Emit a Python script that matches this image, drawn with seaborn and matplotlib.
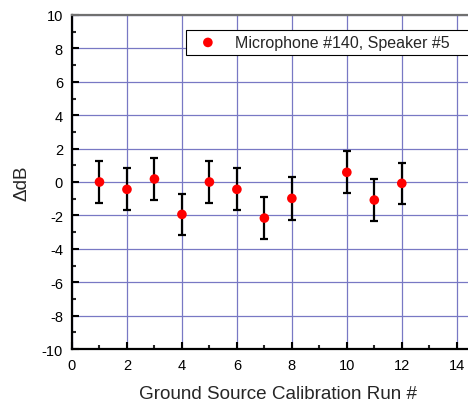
import matplotlib
matplotlib.use("Agg")
import matplotlib.pyplot as plt
import seaborn as sns
import pandas as pd

runs = [1, 2, 3, 4, 5, 6, 7, 8, 10, 11, 12]
delta_db = [0.0, -0.44, 0.18, -1.94, 0.0, -0.44, -2.16, -0.98, 0.58, -1.08, -0.08]
errors = [1.25, 1.25, 1.26, 1.25, 1.25, 1.25, 1.25, 1.28, 1.26, 1.26, 1.24]
series_label = "Microphone #140, Speaker #5"
x_ticks = [0, 2, 4, 6, 8, 10, 12, 14]
y_ticks = [-10, -8, -6, -4, -2, 0, 2, 4, 6, 8, 10]

df = pd.DataFrame({"run": runs, "ddb": delta_db, "err": errors})

sns.set_style("white")
plt.rcParams["font.family"] = ["Liberation Sans", "DejaVu Sans"]
plt.rcParams["axes.unicode_minus"] = False

W, H = 468, 406
fig = plt.figure(figsize=(W / 100, H / 100), dpi=100)
x0, x1 = 72, 470.5
y0, y1 = 350, 16
ax = fig.add_axes([x0 / W, (H - y0) / H, (x1 - x0) / W, (y0 - y1) / H])

ax.errorbar(df["run"], df["ddb"], yerr=df["err"], fmt="none", ecolor="black",
            elinewidth=1.6, capsize=3.2, capthick=1.6, zorder=2)
sns.scatterplot(data=df, x="run", y="ddb", ax=ax, color="#ff0000", s=48,
                edgecolor="none", label=series_label, zorder=3)

ax.set_xlim(0, 14.5)
ax.set_ylim(-10, 10)
ax.set_xticks(x_ticks)
ax.set_yticks(y_ticks)
ax.set_xticks([1, 3, 5, 7, 9, 11, 13], minor=True)
ax.set_yticks([-9, -7, -5, -3, -1, 1, 3, 5, 7, 9], minor=True)
ax.grid(True, which="major", color="#7878c4", linewidth=0.9, zorder=0)
ax.set_axisbelow(True)

ax.tick_params(which="major", direction="in", length=5, width=1.5, labelsize=10.5,
               pad=6.5, colors="black", left=True, bottom=True)
ax.tick_params(which="minor", direction="in", length=3, width=1.5, left=True, bottom=True)

for side in ["left", "bottom"]:
    ax.spines[side].set_color("black")
    ax.spines[side].set_linewidth(1.6)
ax.spines["top"].set_color("#707070")
ax.spines["top"].set_linewidth(1.6)
ax.spines["right"].set_visible(False)

ax.set_xlabel("Ground Source Calibration Run #", fontsize=13.6, labelpad=5)
ax.xaxis.set_label_coords((278 - x0) / (x1 - x0), -(395 - y0) / (y0 - y1))
ax.xaxis.label.set_va("center")
ax.set_ylabel("ΔdB", fontsize=13.6, labelpad=8)

lx = (186 - x0) / (x1 - x0)
ly = (y0 - 30.5) / (y0 - y1)
leg = ax.legend(loc="upper left", bbox_to_anchor=(lx, ly, 1.0 - lx + 0.02, 0.0), mode="expand",
                fontsize=11.5, frameon=True, fancybox=False, borderaxespad=0,
                handletextpad=0.65, borderpad=0.32, handlelength=2.1, markerscale=1.0)
leg.get_frame().set_edgecolor("black")
leg.get_frame().set_linewidth(0.8)
leg.get_frame().set_facecolor("white")
leg.get_frame().set_alpha(1)

fig.savefig("out.png", dpi=100)
